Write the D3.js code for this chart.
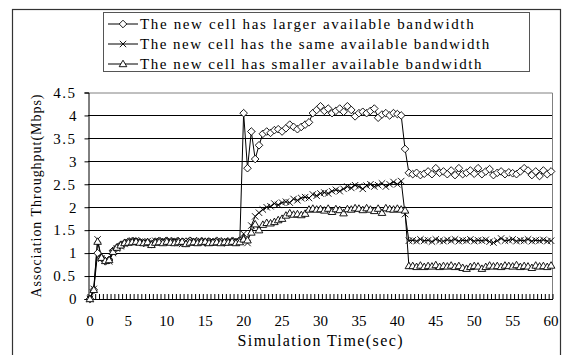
<!DOCTYPE html>
<html>
<head>
<meta charset="utf-8">
<script src="https://cdn.jsdelivr.net/npm/d3@7"></script>
<style>
  body { margin: 0; background: #fff; }
  svg text { font-family: "Liberation Serif", serif; fill: #000; }
</style>
</head>
<body>
<svg width="562" height="355"></svg>
<script>
const width = 562;
const height = 355;
const margin = { top: 92.5, right: 9, bottom: 56, left: 88 };

// tiempo de simulacion 0..60 s cada 0.5 s
const tiempos = d3.range(0, 121).map(i => i / 2);

const mayor = [
  0, 0.2, 1.0, 0.9, 0.82, 0.85, 1.05, 1.12, 1.18, 1.22,
  1.25, 1.26, 1.25, 1.24, 1.22, 1.24, 1.2, 1.25, 1.26, 1.24,
  1.27, 1.25, 1.24, 1.26, 1.22, 1.25, 1.27, 1.24, 1.25, 1.26,
  1.23, 1.25, 1.24, 1.27, 1.25, 1.23, 1.25, 1.26, 1.24, 1.27,
  4.05, 2.85, 3.65, 3.05, 3.35, 3.6, 3.65, 3.62, 3.68, 3.7,
  3.65, 3.72, 3.8, 3.75, 3.7, 3.75, 3.8, 3.85, 4.05, 4.12,
  4.2, 4.1, 4.15, 4.05, 4.1, 4.15, 4.08, 4.2, 4.12, 3.98,
  4.05, 4.08, 4.05, 4.1, 4.15, 3.95, 4.02, 4.05, 4.0, 4.05,
  4.03, 4.0, 3.27, 2.75, 2.72, 2.75, 2.7, 2.73, 2.78, 2.72,
  2.85, 2.75, 2.78, 2.72, 2.8, 2.7, 2.85, 2.72, 2.75, 2.8,
  2.73, 2.85, 2.72, 2.78, 2.83, 2.7, 2.75, 2.78, 2.72, 2.76,
  2.74, 2.72, 2.78, 2.85, 2.8, 2.7, 2.78, 2.68, 2.8, 2.72,
  2.78
];

const igual = [
  0, 0.22, 1.3, 0.88, 0.85, 0.82, 1.0, 1.1, 1.15, 1.2,
  1.24, 1.27, 1.28, 1.25, 1.24, 1.26, 1.22, 1.27, 1.25, 1.28,
  1.24, 1.26, 1.28, 1.25, 1.2, 1.26, 1.25, 1.28, 1.24, 1.25,
  1.27, 1.24, 1.26, 1.25, 1.23, 1.27, 1.25, 1.24, 1.28, 1.25,
  1.42, 1.22, 1.6, 1.8, 1.88, 1.95, 2.0, 2.02, 2.08, 2.05,
  2.1, 2.12, 2.1, 2.18, 2.15, 2.2, 2.22, 2.2, 2.28, 2.25,
  2.3, 2.32, 2.3, 2.35, 2.38, 2.35, 2.4, 2.45, 2.42, 2.48,
  2.45, 2.4, 2.47, 2.5, 2.45, 2.48, 2.52, 2.45, 2.5, 2.55,
  2.5, 2.57, 1.85, 1.27, 1.28, 1.26, 1.3, 1.27, 1.28, 1.25,
  1.3, 1.27, 1.26, 1.29, 1.27, 1.3, 1.26, 1.28, 1.27, 1.3,
  1.26, 1.28, 1.27, 1.29, 1.25, 1.23, 1.27, 1.32, 1.27, 1.28,
  1.3, 1.26, 1.28, 1.27, 1.3, 1.26, 1.28, 1.27, 1.29, 1.26,
  1.27
];

const menor = [
  0, 0.2, 1.25, 0.9, 0.83, 0.85, 1.03, 1.12, 1.17, 1.22,
  1.23, 1.24, 1.25, 1.23, 1.22, 1.24, 1.18, 1.23, 1.24, 1.22,
  1.25, 1.23, 1.22, 1.24, 1.25, 1.2, 1.23, 1.24, 1.22, 1.24,
  1.25, 1.22, 1.23, 1.24, 1.22, 1.24, 1.23, 1.25, 1.22, 1.24,
  1.3, 1.28, 1.45, 1.63, 1.5, 1.62, 1.66, 1.65, 1.68, 1.72,
  1.75, 1.82, 1.87, 1.84, 1.85, 1.83, 1.86, 1.95, 1.97, 1.95,
  1.96, 1.93, 1.97, 1.9, 1.96, 1.94, 1.87, 1.96, 1.95, 1.98,
  1.97, 1.94, 1.98, 1.95, 1.92, 1.97, 1.88, 1.98, 1.96, 1.95,
  1.97, 1.95, 1.93, 0.72, 0.72, 0.7, 0.73, 0.7, 0.72, 0.71,
  0.74, 0.7, 0.72, 0.71, 0.73, 0.7, 0.72, 0.68, 0.66, 0.7,
  0.72, 0.71, 0.66, 0.7, 0.73, 0.71, 0.72, 0.7, 0.73, 0.72,
  0.71, 0.74, 0.7, 0.72, 0.71, 0.68, 0.73, 0.71, 0.72, 0.7,
  0.73
];

const nombres = [
  "The new cell has larger available bandwidth",
  "The new cell has the same available bandwidth",
  "The new cell has smaller available bandwidth"
];
const yTicks = [0, 0.5, 1, 1.5, 2, 2.5, 3, 3.5, 4, 4.5];

const marcadores = [
  "M0,-3.8L3.8,0L0,3.8L-3.8,0Z",
  "M-3.2,-3.2L3.2,3.2M-3.2,3.2L3.2,-3.2",
  "M0,-3.8L3.8,2.7L-3.8,2.7Z"
];
const series = [mayor, igual, menor];
const fuente = "Liberation Serif";

const svg = d3.select("svg");

// marco exterior
svg.append("rect")
  .attr("x", 12.5).attr("y", 9.5)
  .attr("width", 548).attr("height", 360)
  .attr("fill", "none").attr("stroke", "#333").attr("stroke-width", 1.2);

const x = d3.scaleBand()
  .domain(d3.range(tiempos.length))
  .range([margin.left, width - margin.right]);

const y = d3.scaleLinear()
  .domain([0, 4.5])
  .range([height - margin.bottom, margin.top]);

const x0 = margin.left, x1 = width - margin.right;
const y0 = height - margin.bottom, y1 = margin.top;

// rejilla
svg.append("g")
  .selectAll("line")
  .data(yTicks.filter(d => d > 0 && d < 4.5))
  .join("line")
  .attr("x1", x0).attr("x2", x1)
  .attr("y1", d => Math.round(y(d)) + 0.5).attr("y2", d => Math.round(y(d)) + 0.5)
  .attr("stroke", "#000").attr("stroke-width", 1);

// borde del area
svg.append("path")
  .attr("d", `M${x0},${y1 + 0.5}H${x1 - 0.5}V${y0}`)
  .attr("fill", "none").attr("stroke", "#808080");

// Eje Y
const ejeY = svg.append("g")
  .attr("transform", `translate(${x0 + 0.5},0)`)
  .call(d3.axisLeft(y).tickValues(yTicks).tickSize(4).tickPadding(8)
    .tickFormat(d => String(d)));
ejeY.select(".domain").attr("stroke", "#000");
ejeY.selectAll("text")
  .attr("font-size", 15)
  .attr("font-family", fuente)
  .attr("letter-spacing", d => String(d).includes(".") ? 1.5 : 0);

// Eje X: marcas entre categorias hacia adentro
const bordes = d3.range(tiempos.length + 1).map(i => x0 + i * x.bandwidth());
svg.append("g")
  .selectAll("line")
  .data(bordes)
  .join("line")
  .attr("x1", d => d).attr("x2", d => d)
  .attr("y1", y0).attr("y2", y0 - 5)
  .attr("stroke", "#000").attr("stroke-width", 1);
svg.append("line")
  .attr("x1", x0).attr("x2", x1)
  .attr("y1", y0 + 0.5).attr("y2", y0 + 0.5)
  .attr("stroke", "#000").attr("stroke-width", 1.2);

svg.append("g")
  .selectAll("text")
  .data(d3.range(0, tiempos.length, 10))
  .join("text")
  .attr("x", i => x(i) + x.bandwidth() / 2)
  .attr("y", 326)
  .attr("text-anchor", "middle")
  .attr("font-family", fuente)
  .attr("font-size", 15)
  .text(i => tiempos[i]);

// titulos de ejes
svg.append("text")
  .attr("x", 320).attr("y", 346)
  .attr("text-anchor", "middle")
  .attr("font-family", fuente)
  .attr("font-size", 16)
  .attr("textLength", 165).attr("lengthAdjust", "spacing")
  .text("Simulation Time(sec)");

svg.append("text")
  .attr("transform", "rotate(-90)")
  .attr("x", -196).attr("y", 41)
  .attr("text-anchor", "middle")
  .attr("font-family", fuente)
  .attr("font-size", 14)
  .attr("textLength", 203).attr("lengthAdjust", "spacing")
  .text("Association Throughput(Mbps)");

// lineas y marcadores
const linea = d3.line()
  .x((d, i) => x(i) + x.bandwidth() / 2)
  .y(d => y(d));

series.forEach(s => {
  svg.append("path")
    .datum(s)
    .attr("d", linea)
    .attr("fill", "none").attr("stroke", "#000").attr("stroke-width", 1);
});
series.forEach((s, k) => {
  svg.append("g")
    .selectAll("path")
    .data(s)
    .join("path")
    .attr("transform", (d, i) => `translate(${x(i) + x.bandwidth() / 2},${y(d)})`)
    .attr("d", marcadores[k])
    .attr("fill", "#fff").attr("stroke", "#000").attr("stroke-width", 0.9);
});

// leyenda
const leyenda = svg.append("g");
leyenda.append("rect")
  .attr("x", 103.5).attr("y", 12.5)
  .attr("width", 426).attr("height", 59)
  .attr("fill", "#fff").attr("stroke", "#555");
nombres.forEach((n, k) => {
  const yy = 24 + k * 20;
  leyenda.append("line")
    .attr("x1", 108).attr("x2", 138).attr("y1", yy).attr("y2", yy)
    .attr("stroke", "#000");
  leyenda.append("path")
    .attr("transform", `translate(123,${yy})`)
    .attr("d", marcadores[k])
    .attr("fill", "#fff").attr("stroke", "#000").attr("stroke-width", 0.9);
  leyenda.append("text")
    .attr("x", 140).attr("y", yy + 5)
    .attr("font-family", fuente)
    .attr("font-size", 15)
    .attr("textLength", n.length * 7.76).attr("lengthAdjust", "spacing")
    .text(n);
});
</script>
</body>
</html>
